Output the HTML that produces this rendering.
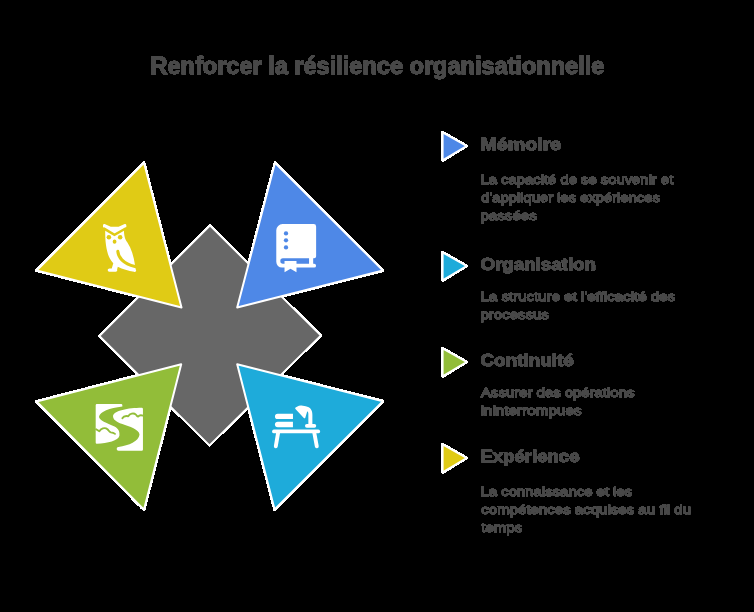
<!DOCTYPE html>
<html><head><meta charset="utf-8"><title>Renforcer la résilience organisationnelle</title>
<style>
html,body{margin:0;padding:0;background:#000;}
body{width:754px;height:612px;overflow:hidden;}
svg{display:block;}
text{font-family:"Liberation Sans",sans-serif;fill:#484848;stroke:#484848;}
</style></head><body>
<svg width="754" height="612" viewBox="0 0 754 612">
<defs><filter id="hard" x="0" y="0" width="754" height="612" filterUnits="userSpaceOnUse" color-interpolation-filters="sRGB"><feComponentTransfer><feFuncA type="linear" slope="255" intercept="0"/></feComponentTransfer></filter></defs>
<rect width="754" height="612" fill="#000"/>
<g filter="url(#hard)">
<!-- central diamond -->
<path d="M210,225.55 L320.65,335.5 L209.5,445.25 L99.65,336 Z" fill="#676767" stroke="#fff" stroke-width="1.7" stroke-linejoin="miter"/>
<!-- four triangles -->
<g stroke="#fff" stroke-width="2" stroke-linejoin="round">
<path d="M144,162.7 L36.6,270.5 L181.5,307.5 Z" fill="#e0cb15"/>
<path d="M275,162.7 L383,270.5 L237.2,307.5 Z" fill="#4e88e7"/>
<path d="M144,509.7 L36.6,401.5 L181.2,364.25 Z" fill="#92bd39"/>
<path d="M274.6,509.5 L383,401.2 L237.2,364.25 Z" fill="#1eabda"/>
<!-- legend markers -->
<path d="M442.6,132.3 L466.6,146.0 L442.6,160.3 Z" fill="#4e88e7"/>
<path d="M442.6,252.3 L466.6,266.0 L442.6,280.3 Z" fill="#1eabda"/>
<path d="M442.6,348.3 L466.6,362.0 L442.6,376.3 Z" fill="#92bd39"/>
<path d="M442.6,444.3 L466.6,458.0 L442.6,472.3 Z" fill="#e0cb15"/>
</g>
<!-- owl icon -->
<g transform="translate(98,218) scale(0.09804)">
<path fill="#fff" d="M51,74 Q52,58 68,61 L130,89 L210,89 L272,61 Q288,58 289,74 L289,92 L168,176 L51,92 Z"/>
<path fill="#fff" d="M74,112 C70,230 85,330 112,395 C125,425 142,446 156,462 L140,514 L116,514 A17.5,17.5 0 0 0 116,549 L180,549 A16,16 0 0 0 195,526 L202,497 C250,520 310,540 368,549 A15,15 0 0 0 384,524 L378,485 C365,390 340,310 300,250 C275,215 266,190 264,112 L168,176 Z"/>
<path d="M58,106 L168,172 L286,105" fill="none" stroke="#e0cb15" stroke-width="25"/>
<circle cx="111" cy="196" r="23" fill="#e0cb15"/><circle cx="226" cy="196" r="23" fill="#e0cb15"/>
<ellipse cx="169" cy="241" rx="19" ry="21" fill="#e0cb15"/>
<path d="M202,340 C206,395 250,465 377,495" fill="none" stroke="#e0cb15" stroke-width="31" stroke-linecap="round"/>
</g>
<!-- book icon -->
<g transform="translate(270,218) scale(0.09813)">
<path fill="#fff" d="M128,62 L445,62 A25,25 0 0 1 470,87 L470,390 A20,20 0 0 1 450,410 L440,410 L440,465 L450,466 A19.5,19.5 0 0 1 450,505 L122,505 A58,58 0 0 1 64,447 L64,126 A64,64 0 0 1 128,62 Z"/>
<path fill="#4e88e7" d="M132,411 L398,411 L398,465 L132,465 A27,27 0 0 1 132,411 Z"/>
<circle cx="163" cy="157" r="22" fill="#4e88e7"/><circle cx="163" cy="228" r="22" fill="#4e88e7"/><circle cx="163" cy="300" r="22" fill="#4e88e7"/>
<path fill="#fff" d="M148,438 L270,438 L270,552 L209,518 L148,552 Z"/>
</g>
<!-- river icon -->
<g transform="translate(90,398) scale(0.09804)">
<path fill="#fff" d="M70,62 L318,62 A12,12 0 0 1 330,74 L330,86 C200,100 100,140 92,190 C92,225 170,255 250,290 C290,310 305,340 300,385 C290,435 180,462 70,466 A12,12 0 0 1 58,454 L58,74 A12,12 0 0 1 70,62 Z"/>
<path fill="#fff" d="M528,100 A12,12 0 0 1 540,112 L540,526 A12,12 0 0 1 528,538 L292,538 A19,19 0 0 1 290,500 C400,485 495,440 505,375 C505,320 400,290 330,265 C260,240 235,215 235,185 C240,130 390,100 528,100 Z"/>
<path fill="none" stroke="#92bd39" stroke-width="19" stroke-linecap="round" stroke-linejoin="round" d="M62,318 L95,340 C110,312 150,295 178,318 C190,328 195,345 212,350 C230,352 245,358 255,366"/>
<path fill="none" stroke="#92bd39" stroke-width="19" stroke-linecap="round" stroke-linejoin="round" d="M330,206 C340,188 360,180 390,186 C405,160 445,148 468,170 C478,180 482,190 490,190 C500,178 520,172 540,180"/>
</g>
<!-- desk icon -->
<g transform="translate(266,398) scale(0.09804)">
<rect x="62" y="322" width="490" height="38" rx="19" fill="#fff"/>
<g stroke="#fff" stroke-width="40" stroke-linecap="round"><path d="M124,352 L100,492"/><path d="M492,352 L518,492"/></g>
<path fill="#fff" d="M119,160 L275,160 L275,215 L119,215 A27.5,27.5 0 0 1 119,160 Z"/>
<path fill="#fff" d="M120,241 L275,241 L275,298 L120,298 A28.5,28.5 0 0 1 120,241 Z"/>
<rect x="398" y="265" width="114" height="38" rx="18" fill="#fff"/>
<path fill="#fff" d="M298,110 Q296,100 306,95 L336,80 Q348,75 362,77 L405,84 C452,92 473,125 473,170 L473,280 L432,280 L432,165 C432,150 428,142 421,136 L400,203 Q395,212 386,204 Z"/>
</g>

<g>
<text transform="translate(150.50,74.40) scale(1.0235,1)" font-size="23.0" font-weight="bold" stroke-width="0.45">Renforcer la résilience organisationnelle</text>
<text transform="translate(480.50,150.40) scale(1.1623,1)" font-size="16.9" font-weight="bold" stroke-width="0.45">Mémoire</text>
<text transform="translate(480.50,270.40) scale(1.1087,1)" font-size="16.9" font-weight="bold" stroke-width="0.45">Organisation</text>
<text transform="translate(480.50,366.40) scale(1.1157,1)" font-size="16.9" font-weight="bold" stroke-width="0.45">Continuité</text>
<text transform="translate(480.50,462.40) scale(1.0978,1)" font-size="16.9" font-weight="bold" stroke-width="0.45">Expérience</text>
<text transform="translate(480.50,184.40) scale(1.0904,1)" font-size="13.6" font-weight="normal" stroke-width="0.5">La capacité de se souvenir et</text>
<text transform="translate(481.30,202.40) scale(1.0873,1)" font-size="13.6" font-weight="normal" stroke-width="0.5">d'appliquer les expériences</text>
<text transform="translate(480.50,220.40) scale(1.1120,1)" font-size="13.6" font-weight="normal" stroke-width="0.5">passées</text>
<text transform="translate(480.50,301.40) scale(1.1097,1)" font-size="13.6" font-weight="normal" stroke-width="0.5">La structure et l'efficacité des</text>
<text transform="translate(480.50,319.40) scale(1.1035,1)" font-size="13.6" font-weight="normal" stroke-width="0.5">processus</text>
<text transform="translate(481.10,397.40) scale(1.0965,1)" font-size="13.6" font-weight="normal" stroke-width="0.5">Assurer des opérations</text>
<text transform="translate(480.50,415.40) scale(1.1246,1)" font-size="13.6" font-weight="normal" stroke-width="0.5">ininterrompues</text>
<text transform="translate(480.50,496.40) scale(1.0985,1)" font-size="13.6" font-weight="normal" stroke-width="0.5">La connaissance et les</text>
<text transform="translate(481.30,514.40) scale(1.1053,1)" font-size="13.6" font-weight="normal" stroke-width="0.5">compétences acquises au fil du</text>
<text transform="translate(481.30,532.40) scale(1.1062,1)" font-size="13.6" font-weight="normal" stroke-width="0.5">temps</text>
</g>
</g>
</svg>
</body></html>
